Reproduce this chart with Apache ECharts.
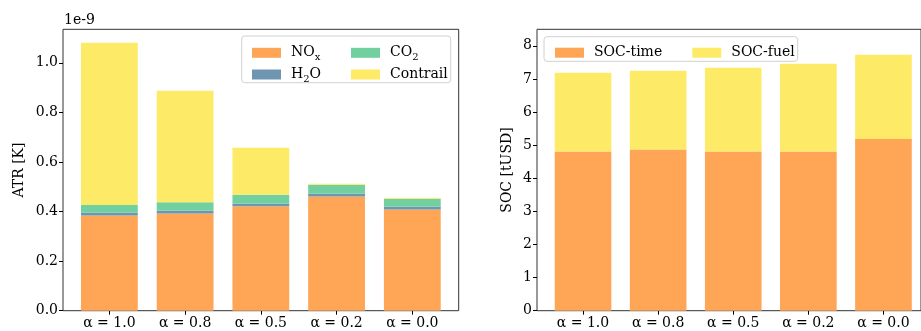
<!DOCTYPE html>
<html>
<head>
<meta charset="utf-8">
<script src="https://cdn.jsdelivr.net/npm/echarts@6/dist/echarts.min.js"></script>
<style>
  html, body { margin: 0; padding: 0; background: #fff; }
  #chart { width: 921px; height: 331px; }
</style>
</head>
<body>
<div id="chart"></div>
<script>
// Scenario labels (weighting factor alpha)
const categories = ['α = 1.0', 'α = 0.8', 'α = 0.5', 'α = 0.2', 'α = 0.0'];

// Average temperature response contributions, in units of 1e-9 K
const atrNOx      = [0.384, 0.392, 0.421, 0.461, 0.408];
const atrH2O      = [0.011, 0.011, 0.010, 0.011, 0.011];
const atrCO2      = [0.031, 0.034, 0.037, 0.036, 0.033];
const atrContrail = [0.655, 0.450, 0.189, 0.004, 0.004];

// Simple operating cost contributions, thousand USD
const socTime = [4.81, 4.87, 4.81, 4.81, 5.19];
const socFuel = [2.38, 2.38, 2.53, 2.65, 2.54];

const atrTicks = [0, 0.2, 0.4, 0.6, 0.8, 1.0];
const socTicks = [0, 1, 2, 3, 4, 5, 6, 7, 8];

const COLORS = {
  nox: '#fea556',
  h2o: '#6f96b1',
  co2: '#72cfa0',
  contrail: '#fdea66'
};

// Legend labels with chemical subscripts as rich text
const legendRich = {
  'NOₓ': '{n|NO}{s|x}',
  'H₂O': '{n|H}{s|2}{n|O}',
  'CO₂': '{n|CO}{s|2}'
};

const FONT = 'DejaVu Serif';
const FS = 14;
// Axis frame spans the bar slots plus a margin on each side (in slot units)
const PAD_UNITS = 0.6125, BAR_UNITS = 0.75;
const N = categories.length;

// Outer frames (spines)
const F1 = { left: 63, top: 29.3, width: 395.7, height: 281.4 };
const F2 = { left: 537, top: 29.3, width: 394.5, height: 281.4 };

// Inner plotting areas: one slot per category, inset from the frame
function inner(f) {
  const unit = f.width / (N - 1 + 2 * PAD_UNITS);
  const inset = (PAD_UNITS - 0.5) * unit;
  return { left: f.left + inset, top: f.top, width: unit * N, height: f.height, inset, unit };
}
const I1 = inner(F1), I2 = inner(F2);

function gridDef(g, framed) {
  return {
    left: g.left, top: g.top, width: g.width, height: g.height,
    show: framed, borderColor: '#333', borderWidth: 1, backgroundColor: 'transparent'
  };
}

function catAxis(gridIndex) {
  return {
    type: 'category', gridIndex, data: categories, boundaryGap: true,
    axisLine: { show: false },
    axisTick: { show: true, alignWithLabel: true, length: 4, lineStyle: { color: '#000', width: 1 } },
    axisLabel: { fontFamily: FONT, fontSize: FS, color: '#000', margin: 6, interval: 0 },
    splitLine: { show: false }
  };
}

function valAxis(gridIndex, max, ticks, fmt, name, gap, offset) {
  return {
    type: 'value', gridIndex, min: 0, max, offset,
    name, nameLocation: 'middle', nameRotate: 90, nameGap: gap,
    nameTextStyle: { fontFamily: FONT, fontSize: FS, color: '#000' },
    splitLine: { show: false },
    axisLine: { show: false, onZero: false },
    axisTick: { show: true, customValues: ticks, length: 4, lineStyle: { color: '#000', width: 1 } },
    axisLabel: {
      customValues: ticks, formatter: fmt,
      fontFamily: FONT, fontSize: FS, color: '#000', margin: 5
    }
  };
}

function hiddenAxis(type, gridIndex) {
  return { type, gridIndex, show: false, min: 0, max: 1 };
}

function bar(name, data, color, axisIndex, bw) {
  return {
    type: 'bar', name, data, stack: 'g' + axisIndex,
    xAxisIndex: axisIndex, yAxisIndex: axisIndex, barWidth: bw,
    itemStyle: { color }, emphasis: { disabled: true }, animation: false
  };
}

function legendEntry(name, left, centerY) {
  return {
    data: [name], left, top: centerY - 8, orient: 'horizontal', z: 20,
    selectedMode: false, itemWidth: 29, itemHeight: 10, icon: 'rect',
    formatter: nm => legendRich[nm] || '{n|' + nm + '}',
    textStyle: {
      fontFamily: FONT, fontSize: FS, color: '#000', lineHeight: 16, padding: [0, 0, 0, 5],
      rich: {
        n: { fontFamily: FONT, fontSize: FS, color: '#000', lineHeight: 16, verticalAlign: 'middle' },
        s: { fontFamily: FONT, fontSize: 10, color: '#000', lineHeight: 10, verticalAlign: 'bottom', padding: [0, 0, -2, 0] }
      }
    }
  };
}

const chart = echarts.init(document.getElementById('chart'), null, { renderer: 'canvas' });

chart.setOption({
  animation: false,
  grid: [gridDef(I1, false), gridDef(I2, false), gridDef(F1, true), gridDef(F2, true)],
  xAxis: [catAxis(0), catAxis(1), hiddenAxis('value', 2), hiddenAxis('value', 3)],
  yAxis: [
    valAxis(0, 1.135, atrTicks, v => v.toFixed(1), 'ATR [K]', 37, I1.inset),
    valAxis(1, 8.5, socTicks, v => String(v), 'SOC [tUSD]', 23, I2.inset),
    hiddenAxis('value', 2), hiddenAxis('value', 3)
  ],
  legend: [
    legendEntry('NOₓ', 247, 47.8),
    legendEntry('H₂O', 247, 69.5),
    legendEntry('CO₂', 346, 47.8),
    legendEntry('Contrail', 346, 69.5),
    legendEntry('SOC-time', 550, 47.7),
    legendEntry('SOC-fuel', 687.3, 47.7)
  ],
  graphic: [
    {
      type: 'text', left: 64, top: 13, z: 10,
      style: { text: '1e-9', fontFamily: FONT, fontSize: FS, fill: '#000' }
    },
    {
      type: 'rect', z: 5, shape: { x: 241.7, y: 36, width: 209, height: 46.7, r: 3 },
      style: { fill: 'rgba(255,255,255,0.8)', stroke: '#d0d0d0', lineWidth: 1 }
    },
    {
      type: 'rect', z: 5, shape: { x: 544, y: 36.7, width: 253.7, height: 24.6, r: 3 },
      style: { fill: 'rgba(255,255,255,0.8)', stroke: '#d0d0d0', lineWidth: 1 }
    }
  ],
  series: [
    bar('NOₓ', atrNOx, COLORS.nox, 0, BAR_UNITS * I1.unit),
    bar('H₂O', atrH2O, COLORS.h2o, 0, BAR_UNITS * I1.unit),
    bar('CO₂', atrCO2, COLORS.co2, 0, BAR_UNITS * I1.unit),
    bar('Contrail', atrContrail, COLORS.contrail, 0, BAR_UNITS * I1.unit),
    bar('SOC-time', socTime, COLORS.nox, 1, BAR_UNITS * I2.unit),
    bar('SOC-fuel', socFuel, COLORS.contrail, 1, BAR_UNITS * I2.unit)
  ]
});
</script>
</body>
</html>
